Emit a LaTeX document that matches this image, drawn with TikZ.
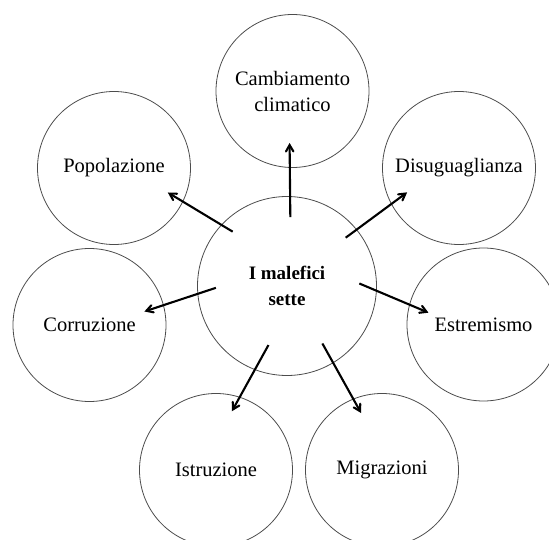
\documentclass[tikz,border=0pt]{standalone}
\usepackage{fontspec}
\setmainfont{Liberation Serif}
\usetikzlibrary{arrows}

\begin{document}
\begin{tikzpicture}[->,>=angle 60, x=1pt, y=-1pt,
    topic/.style={circle, draw=black!70, line width=0.8pt,
                  minimum size=153pt, inner sep=0pt, outer sep=0pt},
    caption/.style={align=center, font=\fontsize{20.5}{26}\selectfont},
    link/.style={line width=2.1pt}]

    \clip (0,0) rectangle (549,540);

    % centre
    \node[topic,
          minimum size=179pt
          ] (hub) at (287,286) {};
    \node[caption,
          font=\bfseries\fontsize{19}{26}\selectfont
          ] (hub-txt) at (hub.center) {I malefici\\sette};

    % ring of topics
    \node[topic] (clim) at (292.5,91) {};
    \node[caption] (clim-txt) at (clim.center) {Cambiamento\\climatico};

    \node[topic] (pop) at (114,168) {};
    \node[caption] (pop-txt) at (pop.center) {Popolazione};

    \node[topic] (dis) at (459,168) {};
    \node[caption] (dis-txt) at (dis.center) {Disuguaglianza};

    \node[topic] (cor) at (89.5,325) {};
    \node[caption] (cor-txt) at (cor.center) {Corruzione};

    \node[topic] (est) at (483.5,324.5) {};
    \node[caption] (est-txt) at (est.center) {Estremismo};

    \node[topic] (ist) at (216,470) {};
    \node[caption] (ist-txt) at (ist.center) {Istruzione};

    \node[topic] (mig) at (382,470) {};
    \node[caption] (mig-txt) at (mig.center) {Migrazioni};

    \path[link]
    (hub.88)  edge [shorten <=-20.5pt, shorten >=-24.5pt] (clim.268)
    (hub.137) edge [shorten <=-13pt, shorten >=-17.5pt] (pop.334)
    (hub.39)  edge [shorten <=-13.5pt, shorten >=-19.5pt] (dis.208)
    (hub.185) edge [shorten <=-19pt, shorten >=-20pt] (cor.15)
    (hub.357) edge [shorten <=-18.5pt, shorten >=-20.5pt] (est.165)
    (hub.249) edge [shorten <=-28pt, shorten >=-16pt] (ist.72)
    (hub.301) edge [shorten <=-22pt, shorten >=-16pt] (mig.112);

\end{tikzpicture}
\end{document}
